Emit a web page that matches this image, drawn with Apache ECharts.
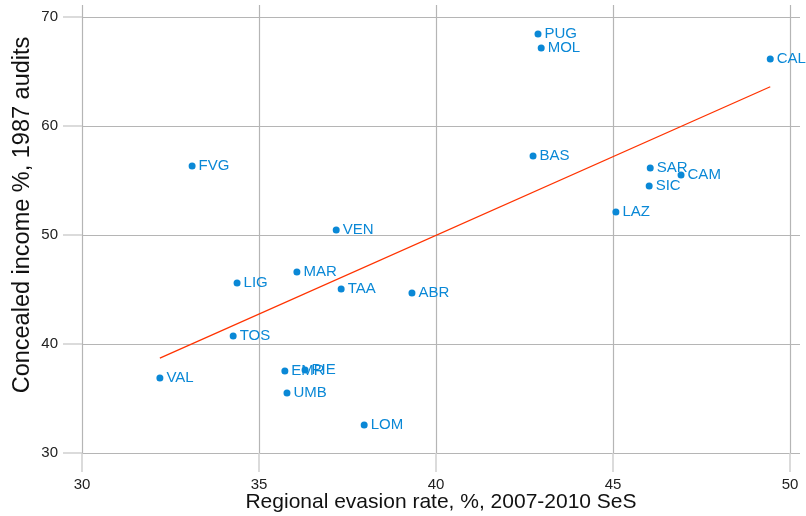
<!DOCTYPE html>
<html>
<head>
<meta charset="utf-8">
<script src="https://cdn.jsdelivr.net/npm/echarts@6/dist/echarts.min.js"></script>
<style>
html,body{margin:0;padding:0;background:#fff;}
#chart{width:806px;height:516px;}
</style>
</head>
<body>
<div id="chart"></div>
<script>
const regions = ['PUG','MOL','CAL','BAS','SAR','CAM','SIC','LAZ','FVG','VEN','MAR','LIG','TAA','ABR','TOS','VAL','EMR','PIE','UMB','LOM'];
const evasionRate = [42.88,42.97,49.44,42.74,46.05,46.92,46.02,45.08,33.11,37.18,36.07,34.38,37.32,39.32,34.27,32.20,35.73,36.30,35.79,37.97];
const concealedIncome = [68.44,67.16,66.15,57.25,56.15,55.50,54.50,52.10,56.33,50.46,46.60,45.60,45.05,44.68,40.73,36.88,37.52,37.62,35.50,32.57];
const fitX = [32.20, 49.44];
const fitY = [38.70, 63.60];
const xTicks = [30,35,40,45,50];
const yTicks = [30,40,50,60,70];

const blue = '#0a88d6';
const red = '#ff3300';
const font = 'Liberation Sans, Arial, sans-serif';

const chart = echarts.init(document.getElementById('chart'), null, {renderer:'canvas'});
const pts = regions.map((r,i)=>({name:r, value:[evasionRate[i], concealedIncome[i]]}));
const fitData = fitX.map((x,i)=>[x, fitY[i]]);

chart.setOption({
  animation:false,
  backgroundColor:'#fff',
  grid:{left:82, right:6, top:5, bottom:63, containLabel:false, outerBoundsMode:'none'},
  xAxis:{
    type:'value', min:30, max:50.28, interval:5,
    name:'Regional evasion rate, %, 2007-2010 SeS',
    nameLocation:'middle', nameGap:39, nameMoveOverlap:false,
    nameTextStyle:{fontFamily:font, fontSize:21, color:'#111'},
    axisLine:{show:false},
    axisTick:{show:true, length:19, lineStyle:{color:'#cfcfcf', width:1.5}},
    axisLabel:{fontFamily:font, fontSize:15, color:'#222', margin:24, showMaxLabel:false,
      formatter:v=> xTicks.includes(v) ? String(v) : ''},
    splitLine:{show:true, showMaxLine:false, lineStyle:{color:'#b5b5b5', width:1.2}}
  },
  yAxis:{
    type:'value', min:30, max:71.1, interval:10,
    name:'Concealed income %, 1987 audits',
    nameLocation:'middle', nameGap:47, nameMoveOverlap:false,
    nameTextStyle:{fontFamily:font, fontSize:23.5, color:'#111', padding:[0,0,0,28]},
    axisLine:{show:false},
    axisTick:{show:true, length:19, lineStyle:{color:'#cfcfcf', width:1.5}},
    axisLabel:{fontFamily:font, fontSize:15, color:'#222', margin:24, showMaxLabel:false,
      formatter:v=> yTicks.includes(v) ? String(v) : ''},
    splitLine:{show:true, showMaxLine:false, lineStyle:{color:'#b5b5b5', width:1.2}}
  },
  series:[
    {
      type:'line', data:fitData, showSymbol:false, symbol:'none',
      lineStyle:{color:red, width:1.3}, z:2, silent:true
    },
    {
      type:'scatter', data:pts, symbol:'circle', symbolSize:7,
      itemStyle:{color:blue, opacity:1}, z:3,
      label:{show:true, position:'right', distance:3, formatter:p=>p.name,
        fontFamily:font, fontSize:15, color:blue},
      labelLayout:{hideOverlap:false}
    }
  ]
});
</script>
</body>
</html>
